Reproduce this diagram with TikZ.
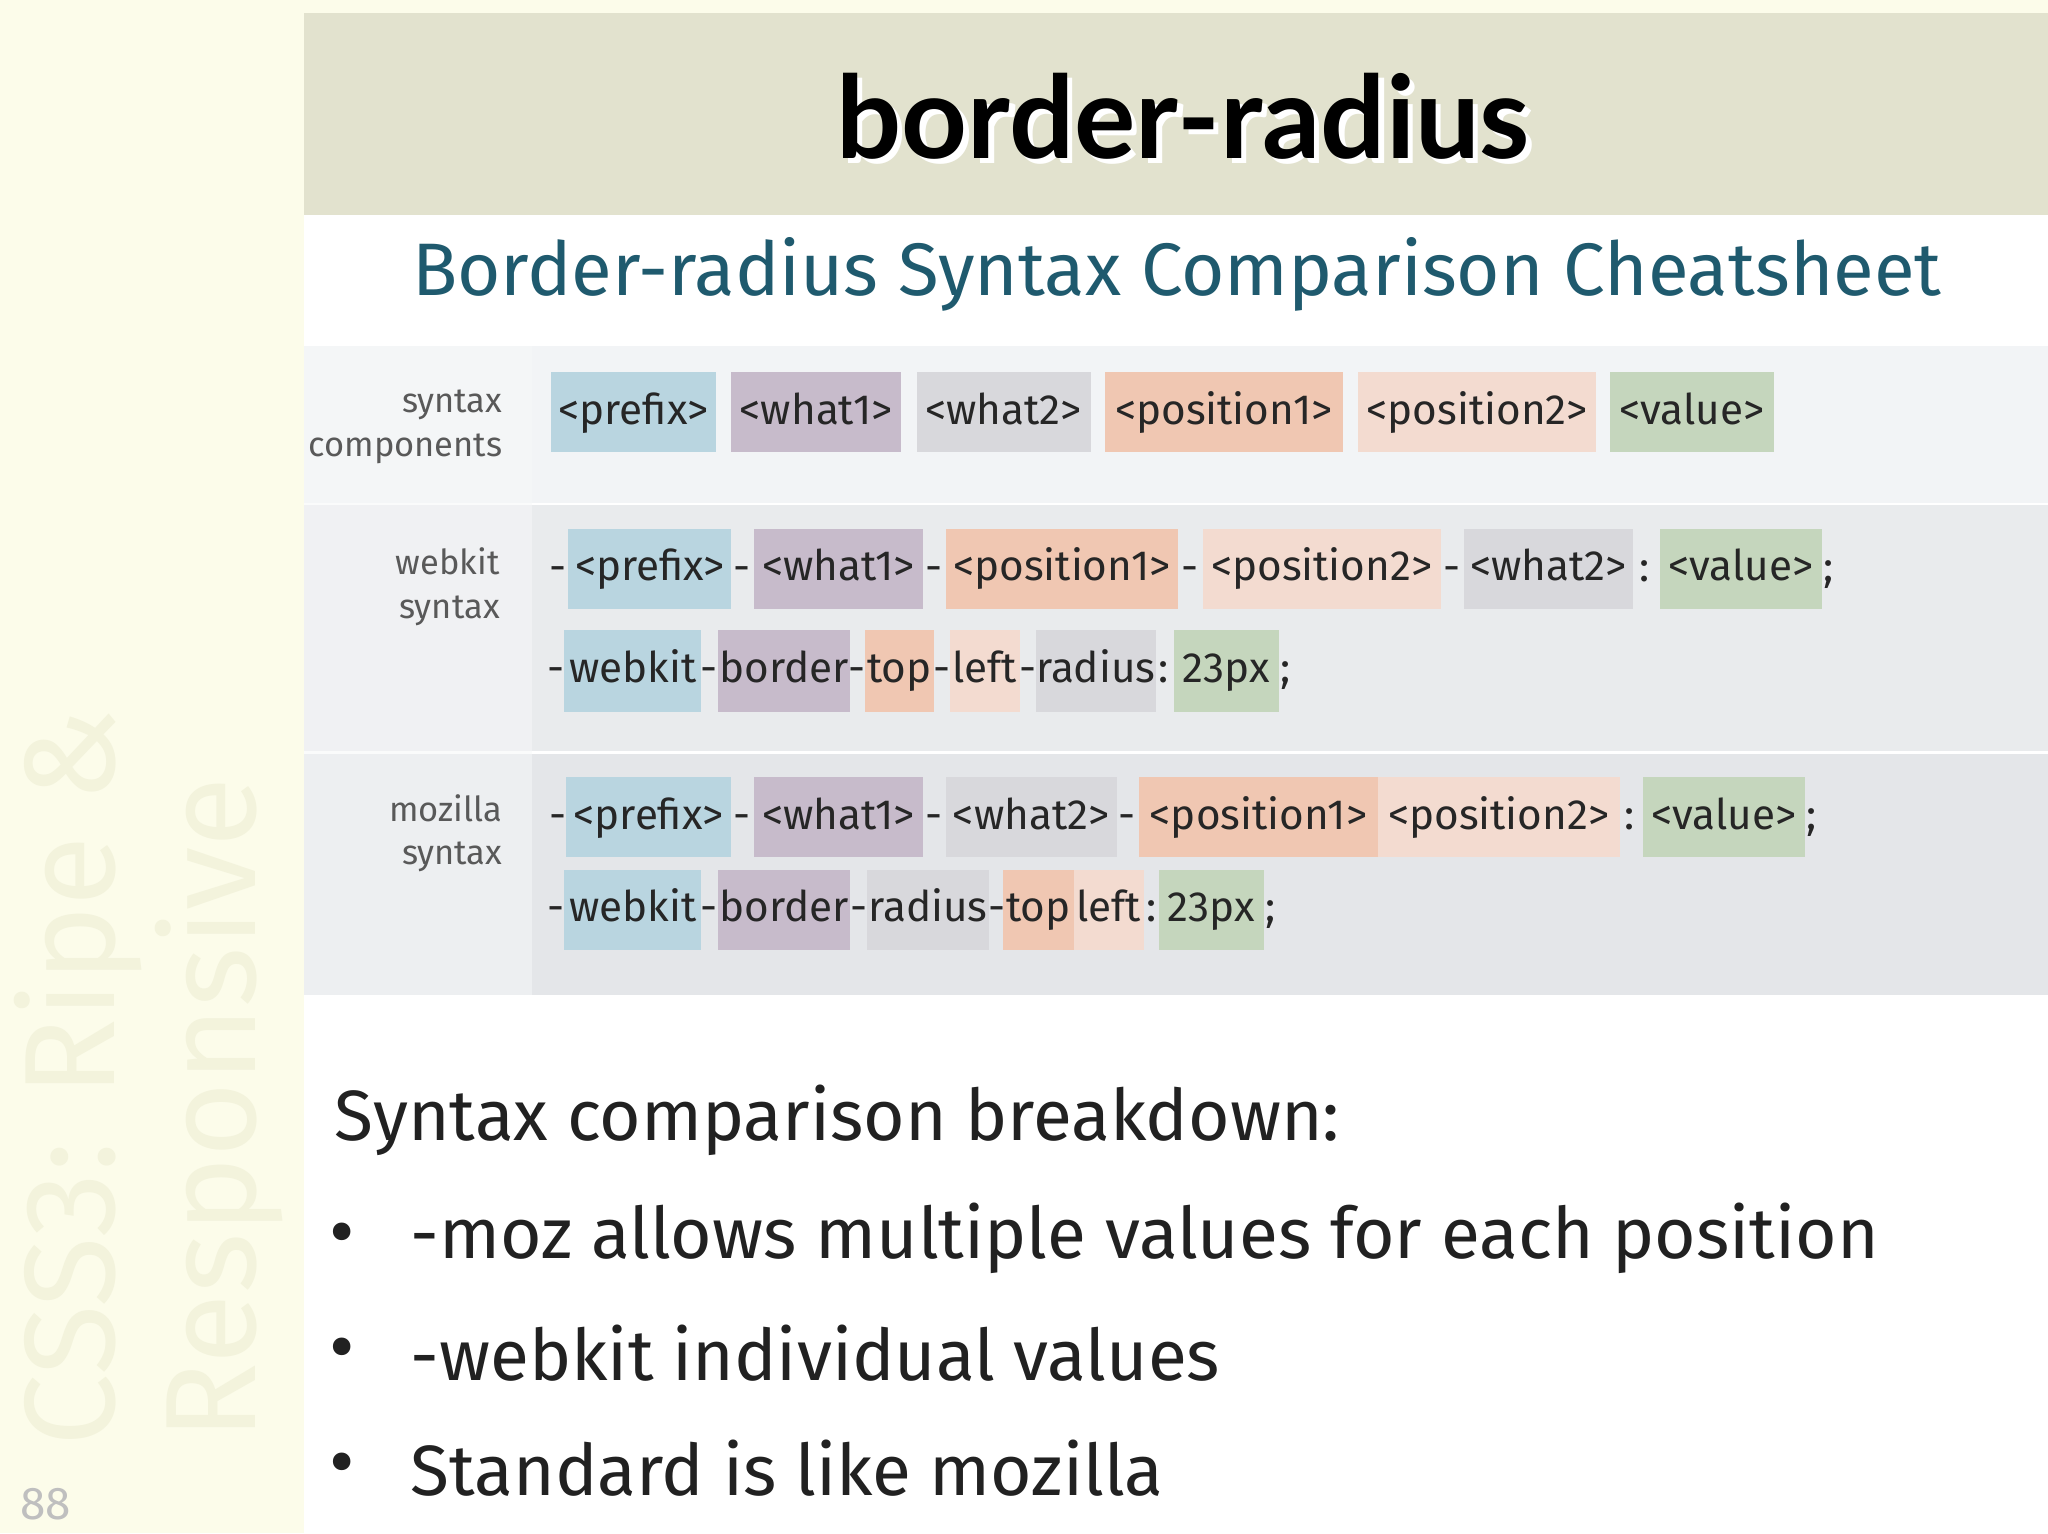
\documentclass[tikz,border=0pt]{standalone}
\usepackage{fontspec}
\setmainfont{Fira Sans}
\newfontfamily\titlefont{Lato}
\definecolor{bgy}{HTML}{FCFCEA}
\definecolor{band}{HTML}{E2E2CE}
\definecolor{teal}{HTML}{1F5A6E}
\definecolor{cpre}{HTML}{B9D5E0}
\definecolor{cw1}{HTML}{C7BBCB}
\definecolor{cw2}{HTML}{D8D8DC}
\definecolor{cp1}{HTML}{F0C7B2}
\definecolor{cp2}{HTML}{F3DBD0}
\definecolor{cval}{HTML}{C5D6BD}
\definecolor{rowa}{HTML}{F2F4F6}
\definecolor{rowb}{HTML}{E9EBED}
\definecolor{rowc}{HTML}{E4E6E9}
\definecolor{lbl}{HTML}{F7F8F9}
\definecolor{deco}{HTML}{F3F3DC}
\tikzset{
 bx/.style={inner sep=0pt,text height=0.75em,text depth=0.22em,font=\fontsize{9.2}{11}\selectfont,text=black!85},
 sep/.style={inner sep=0pt,text height=0.75em,text depth=0.22em,font=\fontsize{9.2}{11}\selectfont,text=black!85},
 rowlbl/.style={align=right,anchor=east,font=\fontsize{7.5}{9.5}\selectfont,text=black!65},
 bul/.style={anchor=west,font=\fontsize{15.5}{18}\selectfont,text=black!87},
 dot/.style={font=\fontsize{17}{18}\selectfont,text=black!87},
}
\newcommand\bx[7]{\node[bx,fill=#5,minimum width={(#2-#1)*0.01cm},minimum height={(#4-#3)*0.01cm}] (#7) at ({(#1+#2)/2},{(#3+#4)/2}) {#6};}
\newcommand\sepnode[3]{\node[sep] (#3) at (#1) {#2};}
\begin{document}
\begin{tikzpicture}[x=0.01cm,y=-0.01cm]
\fill[bgy] (0,0) rectangle (1568,1174);
\useasboundingbox (0,0) rectangle (1568,1174);
% left decoration
\node[rotate=90,anchor=west,text=deco,font=\fontsize{28}{28}\selectfont] (v1) at (60,1120) {CSS3: Ripe \&};
\node[rotate=90,anchor=west,text=deco,font=\fontsize{28}{28}\selectfont] (v2) at (168,1115) {Responsive};
\node[text=black!25,font=\fontsize{10}{10}\selectfont] (pg) at (35,1152) {88};
\fill[white] (233,165) rectangle (1568,1174);
\fill[band] (233,10) rectangle (1568,165);
\node[font=\titlefont\bfseries\fontsize{25}{25}\selectfont,text=white] (tsh) at (910,93) {border-radius};
\node[font=\titlefont\bfseries\fontsize{25}{25}\selectfont,text=black] (title) at (906,89) {border-radius};
\node[font=\fontsize{16.2}{19}\selectfont,text=teal] (sub) at (901,210) {Border-radius Syntax Comparison Cheatsheet};
% table rows
\fill[rowa] (233,265) rectangle (1568,385);
\fill[rowb] (233,387) rectangle (1568,575);
\fill[rowc] (233,577) rectangle (1568,762);
\fill[lbl,opacity=0.5] (233,265) rectangle (407,762);
\node[rowlbl] (l1) at (397,327) {syntax\\components};
\node[rowlbl] (l2) at (395,449) {webkit\\syntax};
\node[rowlbl] (l3) at (397,638) {mozilla\\syntax};
% row 1
\bx{422}{548}{285}{346}{cpre}{<prefix>}{a1}
\bx{560}{690}{285}{346}{cw1}{<what1>}{a2}
\bx{702}{835}{285}{346}{cw2}{<what2>}{a3}
\bx{846}{1028}{285}{346}{cp1}{<position1>}{a4}
\bx{1040}{1222}{285}{346}{cp2}{<position2>}{a5}
\bx{1233}{1358}{285}{346}{cval}{<value>}{a6}
% row 2 line 1
\sepnode{427,436}{-}{b0}
\bx{435}{560}{405}{466}{cpre}{<prefix>}{b1}
\sepnode{568,436}{-}{b1s}
\bx{577}{707}{405}{466}{cw1}{<what1>}{b2}
\sepnode{715,436}{-}{b2s}
\bx{724}{902}{405}{466}{cp1}{<position1>}{b3}
\sepnode{911,436}{-}{b3s}
\bx{921}{1103}{405}{466}{cp2}{<position2>}{b4}
\sepnode{1112,436}{-}{b4s}
\bx{1121}{1250}{405}{466}{cw2}{<what2>}{b5}
\sepnode{1259,436}{:}{b5s}
\bx{1271}{1395}{405}{466}{cval}{<value>}{b6}
\sepnode{1400,436}{;}{b6s}
% row 2 line 2
\sepnode{426,513}{-}{c0}
\bx{432}{537}{482}{545}{cpre}{webkit}{c1}
\sepnode{543,513}{-}{c1s}
\bx{550}{651}{482}{545}{cw1}{border}{c2}
\sepnode{656,513}{-}{c2s}
\bx{662}{715}{482}{545}{cp1}{top}{c3}
\sepnode{721,513}{-}{c3s}
\bx{727}{781}{482}{545}{cp2}{left}{c4}
\sepnode{787,513}{-}{c4s}
\bx{793}{885}{482}{545}{cw2}{radius}{c5}
\sepnode{891,513}{:}{c5s}
\bx{899}{979}{482}{545}{cval}{23px}{c6}
\sepnode{984,513}{;}{c6s}
% row 3 line 1
\sepnode{427,626}{-}{d0}
\bx{433}{560}{595}{656}{cpre}{<prefix>}{d1}
\sepnode{568,626}{-}{d1s}
\bx{577}{707}{595}{656}{cw1}{<what1>}{d2}
\sepnode{715,626}{-}{d2s}
\bx{724}{855}{595}{656}{cw2}{<what2>}{d3}
\sepnode{863,626}{-}{d3s}
\bx{872}{1055}{595}{656}{cp1}{<position1>}{d4}
\bx{1055}{1240}{595}{656}{cp2}{<position2>}{d5}
\sepnode{1248,626}{:}{d5s}
\bx{1258}{1382}{595}{656}{cval}{<value>}{d6}
\sepnode{1387,626}{;}{d6s}
% row 3 line 2
\sepnode{426,696}{-}{e0}
\bx{432}{537}{666}{727}{cpre}{webkit}{e1}
\sepnode{543,696}{-}{e1s}
\bx{550}{651}{666}{727}{cw1}{border}{e2}
\sepnode{658,696}{-}{e2s}
\bx{664}{757}{666}{727}{cw2}{radius}{e3}
\sepnode{763,696}{-}{e3s}
\bx{768}{822}{666}{727}{cp1}{top}{e4}
\bx{822}{876}{666}{727}{cp2}{left}{e5}
\sepnode{882,696}{:}{e5s}
\bx{887}{968}{666}{727}{cval}{23px}{e6}
\sepnode{973,696}{;}{e6s}
% bottom text
\node[bul] (h) at (244,858) {Syntax comparison breakdown:};
\node[dot] (p1) at (262,950) {•};
\node[bul] (k1) at (302,948) {-moz allows multiple values for each position};
\node[dot] (p2) at (262,1038) {•};
\node[bul] (k2) at (302,1036) {-webkit individual values};
\node[dot] (p3) at (262,1126) {•};
\node[bul] (k3) at (302,1124) {Standard is like mozilla};
\end{tikzpicture}
\end{document}
